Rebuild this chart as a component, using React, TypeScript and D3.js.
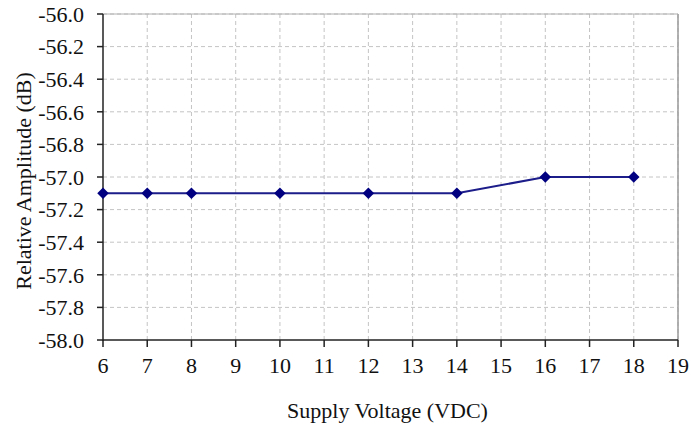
import React from "react";
import * as d3 from "d3";

// supply voltage (VDC) vs relative amplitude (dB)
const voltages = [6, 7, 8, 10, 12, 14, 16, 18];
const amplitudes = [-57.1, -57.1, -57.1, -57.1, -57.1, -57.1, -57.0, -57.0];
const xTicks = [6, 7, 8, 9, 10, 11, 12, 13, 14, 15, 16, 17, 18, 19];
const yTicks = [-56.0, -56.2, -56.4, -56.6, -56.8, -57.0, -57.2, -57.4, -57.6, -57.8, -58.0];

const W = 691;
const H = 430;
const margin = { top: 14, right: 13, bottom: 90, left: 103 };
const font = "'Liberation Serif', 'Times New Roman', serif";

const App = () => {
  const x = d3
    .scaleLinear()
    .domain([6, 19])
    .range([margin.left, W - margin.right]);
  const y = d3
    .scaleLinear()
    .domain([-58, -56])
    .range([H - margin.bottom, margin.top]);

  const pts = voltages.map((v, i) => ({ v, a: amplitudes[i] }));
  const line = d3
    .line<{ v: number; a: number }>()
    .x((d) => x(d.v))
    .y((d) => y(d.a));
  const diamond = d3.symbol().type(d3.symbolDiamond2).size(85)();

  const x0 = x.range()[0];
  const x1 = x.range()[1];
  const y0 = y.range()[0];
  const y1 = y.range()[1];

  return (
    <svg
      width={W}
      height={H}
      style={{ position: "absolute", left: 0, top: 0, background: "#fff" }}
    >
      {/* grid */}
      {xTicks.slice(1).map((t) => (
        <line
          key={"gx" + t}
          x1={x(t)}
          x2={x(t)}
          y1={y1}
          y2={y0}
          stroke="#c4c4c4"
          strokeDasharray="4,3"
        />
      ))}
      {yTicks.slice(0, -1).map((t) => (
        <line
          key={"gy" + t}
          x1={x0}
          x2={x1}
          y1={y(t)}
          y2={y(t)}
          stroke="#c4c4c4"
          strokeDasharray="4,3"
        />
      ))}
      {/* frame */}
      <line x1={x1} x2={x1} y1={y1} y2={y0} stroke="#9a9a9a" strokeWidth={1.5} />
      <line x1={x0} x2={x1} y1={y1} y2={y1} stroke="#b0b0b0" strokeWidth={1} />
      <line x1={x0} x2={x0} y1={y1} y2={y0 + 1} stroke="#222" strokeWidth={1.5} />
      <line x1={x0} x2={x1} y1={y0} y2={y0} stroke="#222" strokeWidth={1.5} />

      {/* ticks */}
      {yTicks.map((t) => (
        <g key={"ty" + t}>
          <line x1={x0 - 6} x2={x0} y1={y(t)} y2={y(t)} stroke="#222" strokeWidth={1.5} />
          <text
            x={x0 - 19}
            y={y(t)}
            dy="0.35em"
            textAnchor="end"
            fontFamily={font}
            fontSize={22}
            fill="#111"
          >
            {t.toFixed(1)}
          </text>
        </g>
      ))}
      {xTicks.map((t) => (
        <g key={"tx" + t}>
          <line x1={x(t)} x2={x(t)} y1={y0} y2={y0 + 7} stroke="#222" strokeWidth={1.5} />
          <text
            x={x(t)}
            y={y0 + 33}
            textAnchor="middle"
            fontFamily={font}
            fontSize={22}
            fill="#111"
          >
            {t}
          </text>
        </g>
      ))}

      {/* series */}
      <path d={line(pts) || ""} fill="none" stroke="#1c1c8a" strokeWidth={2} />
      {pts.map((d) => (
        <path
          key={"m" + d.v}
          d={diamond || ""}
          transform={`translate(${x(d.v)},${y(d.a)})`}
          fill="#000080"
        />
      ))}

      {/* axis titles */}
      <text
        x={(x0 + x1) / 2 - 3}
        y={418}
        textAnchor="middle"
        fontFamily={font}
        fontSize={22}
        fill="#111"
      >
        Supply Voltage (VDC)
      </text>
      <text
        transform={`translate(31,${(y0 + y1) / 2 + 4}) rotate(-90)`}
        textAnchor="middle"
        fontFamily={font}
        fontSize={22}
        fill="#111"
      >
        Relative Amplitude (dB)
      </text>
    </svg>
  );
};

export default App;
